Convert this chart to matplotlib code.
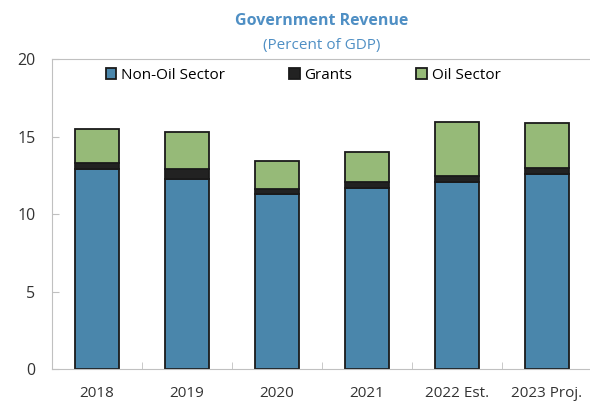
import matplotlib.pyplot as plt
import numpy as np

years = ["2018", "2019", "2020", "2021", "2022 Est.", "2023 Proj."]
non_oil = [12.9, 12.3, 11.3, 11.7, 12.05, 12.6]
grants = [0.4, 0.6, 0.3, 0.4, 0.4, 0.4]
oil = [2.2, 2.4, 1.8, 1.9, 3.5, 2.9]

plt.rcParams['font.family'] = ['Open Sans', 'DejaVu Sans']

fig = plt.figure(figsize=(5.9, 4.04), dpi=100)
ax = fig.add_axes([52 / 590, 0.0854, 540 / 590, 0.7686])

x = np.arange(len(years))
w = 0.49
non_oil = np.array(non_oil)
grants = np.array(grants)
oil = np.array(oil)

ax.bar(x, non_oil, w, color="#4a86ab", edgecolor="#1a1a1a", linewidth=1.3, label="Non-Oil Sector")
ax.bar(x, grants, w, bottom=non_oil, color="#222222", edgecolor="#1a1a1a", linewidth=1.3, label="Grants")
ax.bar(x, oil, w, bottom=non_oil + grants, color="#96ba78", edgecolor="#1a1a1a", linewidth=1.3, label="Oil Sector")

ax.set_xlim(-0.5, len(years) - 0.5)
ax.set_ylim(0, 20)
ax.set_yticks([0, 5, 10, 15, 20])
ax.set_xticks(x)
ax.set_xticklabels(years)
ax.set_xticks(np.arange(0.5, len(years) - 0.5, 1), minor=True)

for s in ax.spines.values():
    s.set_color("#c0c0c0")
ax.tick_params(axis="y", direction="in", length=5, color="#c0c0c0", labelsize=11.5, labelcolor="#333333", pad=12)
ax.tick_params(axis="x", which="major", length=0, labelsize=11, labelcolor="#333333", pad=12)
ax.tick_params(axis="x", which="minor", direction="in", length=5, color="#c0c0c0")

ax.legend(loc="upper center", ncol=3, frameon=False, fontsize=11, handlelength=0.7, handleheight=0.7,
          handletextpad=0.3, columnspacing=4.2, bbox_to_anchor=(0.465, 1.0), borderaxespad=0.2)

fig.text(0.545, 0.947, "Government Revenue", ha="center", va="center", fontsize=11.5, fontweight="bold", color="#4f8fc4")
fig.text(0.545, 0.887, "(Percent of GDP)", ha="center", va="center", fontsize=11, color="#4f8fc4")

fig.savefig("out.png", dpi=100)
